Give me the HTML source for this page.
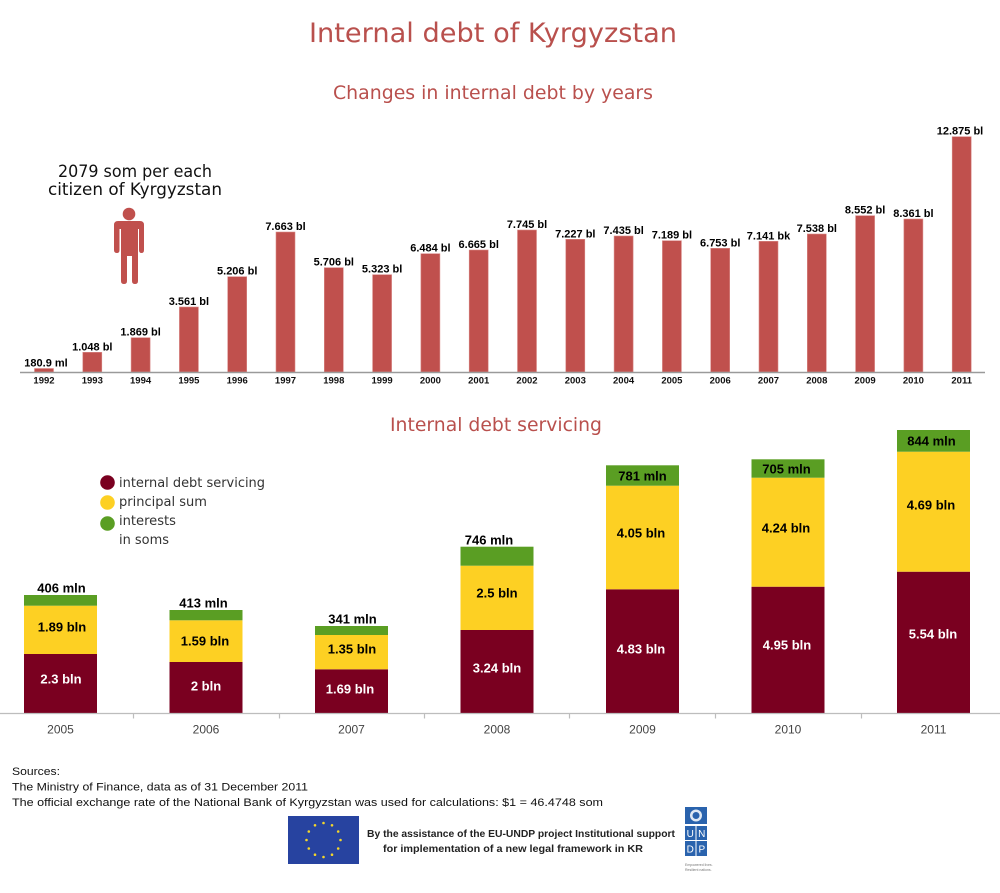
<!DOCTYPE html>
<html><head><meta charset="utf-8"><style>
html,body{margin:0;padding:0;background:#fff;}
svg{display:block;}
</style></head><body>
<svg width="1000" height="893" viewBox="0 0 1000 893" xmlns="http://www.w3.org/2000/svg">
<rect width="1000" height="893" fill="#fff"/>
<!-- Titles -->
<text x="493" y="42" text-anchor="middle" font-family="DejaVu Sans, sans-serif" font-size="27" fill="#b9504d" textLength="368" lengthAdjust="spacingAndGlyphs">Internal debt of Kyrgyzstan</text>
<text x="493" y="99" text-anchor="middle" font-family="DejaVu Sans, sans-serif" font-size="19" fill="#b9504d" textLength="320" lengthAdjust="spacingAndGlyphs">Changes in internal debt by years</text>

<!-- citizen text -->
<text x="135" y="177" text-anchor="middle" font-family="DejaVu Sans, sans-serif" font-size="16.5" fill="#111" textLength="154" lengthAdjust="spacingAndGlyphs">2079 som per each</text>
<text x="135" y="195" text-anchor="middle" font-family="DejaVu Sans, sans-serif" font-size="16.5" fill="#111" textLength="174" lengthAdjust="spacingAndGlyphs">citizen of Kyrgyzstan</text>

<!-- person icon -->
<g fill="#c0504d">
<circle cx="129" cy="214" r="6.3"/>
<path d="M118,221 H140 Q144,221 144,225 V250 Q144,253 141.5,253 Q139,253 139,250 V229 H138 V281 Q138,284 135,284 Q132,284 132,281 V256 H127 V281 Q127,284 124,284 Q121,284 121,281 V229 H119.5 V250 Q119.5,253 117,253 Q114,253 114,250 V225 Q114,221 118,221 Z"/>
</g>

<!-- top chart bars -->
<g fill="#c0504d" stroke="#d98a88" stroke-width="0.6">
<rect x="34.5" y="368.5" width="19" height="3.5"/>
<rect x="82.8" y="352.3" width="19" height="19.7"/>
<rect x="131.1" y="337.7" width="19" height="34.3"/>
<rect x="179.4" y="307" width="19" height="65"/>
<rect x="227.7" y="276.7" width="19" height="95.3"/>
<rect x="276" y="232" width="19" height="140"/>
<rect x="324.3" y="267.7" width="19" height="104.3"/>
<rect x="372.6" y="274.7" width="19" height="97.3"/>
<rect x="420.9" y="253.7" width="19" height="118.3"/>
<rect x="469.2" y="250" width="19" height="122"/>
<rect x="517.5" y="230" width="19" height="142"/>
<rect x="565.8" y="239.3" width="19" height="132.7"/>
<rect x="614.1" y="236" width="19" height="136"/>
<rect x="662.4" y="240.7" width="19" height="131.3"/>
<rect x="710.7" y="248.3" width="19" height="123.7"/>
<rect x="759" y="241.3" width="19" height="130.7"/>
<rect x="807.3" y="234" width="19" height="138"/>
<rect x="855.6" y="215.7" width="19" height="156.3"/>
<rect x="903.9" y="219" width="19" height="153"/>
<rect x="952.2" y="136.7" width="19" height="235.3"/>
</g>
<line x1="20" y1="372.5" x2="985" y2="372.5" stroke="#9a9a9a" stroke-width="1.5"/>

<g font-family="Liberation Sans, sans-serif" font-weight="bold" font-size="11" fill="#000" text-anchor="middle">
<text x="46" y="366.5">180.9 ml</text>
<text x="92.3" y="350.3">1.048 bl</text>
<text x="140.6" y="335.7">1.869 bl</text>
<text x="188.9" y="305">3.561 bl</text>
<text x="237.2" y="274.7">5.206 bl</text>
<text x="285.5" y="230">7.663 bl</text>
<text x="333.8" y="265.7">5.706 bl</text>
<text x="382.1" y="272.7">5.323 bl</text>
<text x="430.4" y="251.7">6.484 bl</text>
<text x="478.7" y="248">6.665 bl</text>
<text x="527" y="228">7.745 bl</text>
<text x="575.3" y="237.3">7.227 bl</text>
<text x="623.6" y="234">7.435 bl</text>
<text x="671.9" y="238.7">7.189 bl</text>
<text x="720.2" y="246.3">6.753 bl</text>
<text x="768.5" y="239.3">7.141 bk</text>
<text x="816.8" y="232">7.538 bl</text>
<text x="865.1" y="213.7">8.552 bl</text>
<text x="913.4" y="217">8.361 bl</text>
<text x="960" y="134.7">12.875 bl</text>
</g>
<g font-family="Liberation Sans, sans-serif" font-weight="bold" font-size="9.5" fill="#111" text-anchor="middle">
<text x="44" y="383.5">1992</text>
<text x="92.3" y="383.5">1993</text>
<text x="140.6" y="383.5">1994</text>
<text x="188.9" y="383.5">1995</text>
<text x="237.2" y="383.5">1996</text>
<text x="285.5" y="383.5">1997</text>
<text x="333.8" y="383.5">1998</text>
<text x="382.1" y="383.5">1999</text>
<text x="430.4" y="383.5">2000</text>
<text x="478.7" y="383.5">2001</text>
<text x="527" y="383.5">2002</text>
<text x="575.3" y="383.5">2003</text>
<text x="623.6" y="383.5">2004</text>
<text x="671.9" y="383.5">2005</text>
<text x="720.2" y="383.5">2006</text>
<text x="768.5" y="383.5">2007</text>
<text x="816.8" y="383.5">2008</text>
<text x="865.1" y="383.5">2009</text>
<text x="913.4" y="383.5">2010</text>
<text x="961.7" y="383.5">2011</text>
</g>

<!-- bottom chart -->
<text x="496" y="431" text-anchor="middle" font-family="DejaVu Sans, sans-serif" font-size="19" fill="#b9504d" textLength="212" lengthAdjust="spacingAndGlyphs">Internal debt servicing</text>

<!-- legend -->
<circle cx="107.5" cy="482.5" r="7.3" fill="#7a0020"/>
<circle cx="107.5" cy="502.5" r="7.3" fill="#fdd023"/>
<circle cx="107.5" cy="523.5" r="7.3" fill="#5a9e23"/>
<g font-family="DejaVu Sans, sans-serif" font-size="13" fill="#333">
<text x="119" y="487" textLength="146" lengthAdjust="spacingAndGlyphs">internal debt servicing</text>
<text x="119" y="506" textLength="88" lengthAdjust="spacingAndGlyphs">principal sum</text>
<text x="119" y="525" textLength="57" lengthAdjust="spacingAndGlyphs">interests</text>
<text x="119" y="544" textLength="50" lengthAdjust="spacingAndGlyphs">in soms</text>
</g>

<!-- stacked bars -->
<g>
<rect x="24" y="654" width="73" height="59" fill="#7a0020"/>
<rect x="24" y="605.7" width="73" height="48.3" fill="#fdd023"/>
<rect x="24" y="595" width="73" height="10.7" fill="#5a9e23"/>

<rect x="169.5" y="662" width="73" height="51" fill="#7a0020"/>
<rect x="169.5" y="620.3" width="73" height="41.7" fill="#fdd023"/>
<rect x="169.5" y="610" width="73" height="10.3" fill="#5a9e23"/>

<rect x="315" y="669.3" width="73" height="43.7" fill="#7a0020"/>
<rect x="315" y="635" width="73" height="34.3" fill="#fdd023"/>
<rect x="315" y="626" width="73" height="9" fill="#5a9e23"/>

<rect x="460.5" y="630" width="73" height="83" fill="#7a0020"/>
<rect x="460.5" y="565.7" width="73" height="64.3" fill="#fdd023"/>
<rect x="460.5" y="546.7" width="73" height="19" fill="#5a9e23"/>

<rect x="606" y="589.3" width="73" height="123.7" fill="#7a0020"/>
<rect x="606" y="485.7" width="73" height="103.6" fill="#fdd023"/>
<rect x="606" y="465.3" width="73" height="20.4" fill="#5a9e23"/>

<rect x="751.5" y="586.7" width="73" height="126.3" fill="#7a0020"/>
<rect x="751.5" y="477.7" width="73" height="109" fill="#fdd023"/>
<rect x="751.5" y="459.3" width="73" height="18.4" fill="#5a9e23"/>

<rect x="897" y="571.7" width="73" height="141.3" fill="#7a0020"/>
<rect x="897" y="451.7" width="73" height="120" fill="#fdd023"/>
<rect x="897" y="430" width="73" height="21.7" fill="#5a9e23"/>
</g>

<!-- axis -->
<line x1="0" y1="713.5" x2="1000" y2="713.5" stroke="#bdbdbd" stroke-width="1.2"/>
<g stroke="#bdbdbd" stroke-width="1.2">
<line x1="133.5" y1="713" x2="133.5" y2="718.5"/>
<line x1="279.5" y1="713" x2="279.5" y2="718.5"/>
<line x1="424.5" y1="713" x2="424.5" y2="718.5"/>
<line x1="569.5" y1="713" x2="569.5" y2="718.5"/>
<line x1="715.5" y1="713" x2="715.5" y2="718.5"/>
<line x1="861.5" y1="713" x2="861.5" y2="718.5"/>
</g>
<g font-family="Liberation Sans, sans-serif" font-size="12" fill="#444" text-anchor="middle">
<text x="60.5" y="733.5">2005</text>
<text x="206" y="733.5">2006</text>
<text x="351.5" y="733.5">2007</text>
<text x="497" y="733.5">2008</text>
<text x="642.5" y="733.5">2009</text>
<text x="788" y="733.5">2010</text>
<text x="933.5" y="733.5">2011</text>
</g>

<!-- bar labels -->
<g font-family="Liberation Sans, sans-serif" font-weight="bold" font-size="13" text-anchor="middle">
<g fill="#fff">
<text x="61" y="683.6">2.3 bln</text>
<text x="206" y="690.6">2 bln</text>
<text x="350" y="693.6">1.69 bln</text>
<text x="497" y="672.6">3.24 bln</text>
<text x="641" y="653.6">4.83 bln</text>
<text x="787" y="649.6">4.95 bln</text>
<text x="933" y="638.6">5.54 bln</text>
</g>
<g fill="#000">
<text x="62" y="631.6">1.89 bln</text>
<text x="205" y="645.6">1.59 bln</text>
<text x="352" y="653.6">1.35 bln</text>
<text x="497" y="597.6">2.5 bln</text>
<text x="641" y="537.6">4.05 bln</text>
<text x="786" y="532.6">4.24 bln</text>
<text x="931" y="509.6">4.69 bln</text>
<text x="61.5" y="592.6">406 mln</text>
<text x="203.5" y="607.6">413 mln</text>
<text x="352.5" y="623.6">341 mln</text>
<text x="489" y="544.6">746 mln</text>
<text x="642.5" y="480.6">781 mln</text>
<text x="786.5" y="473.6">705 mln</text>
<text x="931.5" y="445.6">844 mln</text>
</g>
</g>

<!-- sources -->
<g font-family="Liberation Sans, sans-serif" font-size="11" fill="#111">
<text x="12" y="775" textLength="48" lengthAdjust="spacingAndGlyphs">Sources:</text>
<text x="12" y="790.5" textLength="296" lengthAdjust="spacingAndGlyphs">The Ministry of Finance, data as of 31 December 2011</text>
<text x="12" y="806" textLength="591" lengthAdjust="spacingAndGlyphs">The official exchange rate of the National Bank of Kyrgyzstan was used for calculations: $1 = 46.4748 som</text>
</g>

<!-- EU flag -->
<rect x="288" y="816" width="71" height="48" fill="#2743a0"/>
<g fill="#f4d62a">
<circle cx="323.5" cy="823" r="1.3"/>
<circle cx="332" cy="825.3" r="1.3"/>
<circle cx="338.2" cy="831.5" r="1.3"/>
<circle cx="340.5" cy="840" r="1.3"/>
<circle cx="338.2" cy="848.5" r="1.3"/>
<circle cx="332" cy="854.7" r="1.3"/>
<circle cx="323.5" cy="857" r="1.3"/>
<circle cx="315" cy="854.7" r="1.3"/>
<circle cx="308.8" cy="848.5" r="1.3"/>
<circle cx="306.5" cy="840" r="1.3"/>
<circle cx="308.8" cy="831.5" r="1.3"/>
<circle cx="315" cy="825.3" r="1.3"/>
</g>
<g font-family="Liberation Sans, sans-serif" font-weight="bold" font-size="10" fill="#222">
<text x="367" y="837" textLength="308" lengthAdjust="spacingAndGlyphs">By the assistance of the EU-UNDP project Institutional support</text>
<text x="383" y="852" textLength="260" lengthAdjust="spacingAndGlyphs">for implementation of a new legal framework in KR</text>
</g>

<!-- UNDP logo -->
<rect x="685" y="807" width="22" height="17" fill="#2a63ad"/>
<circle cx="696" cy="815.5" r="6" fill="#dfe8f3"/>
<circle cx="696" cy="815.5" r="3.5" fill="#2a63ad"/>
<rect x="685" y="826" width="10.5" height="14" fill="#2a63ad"/>
<rect x="696.5" y="826" width="10.5" height="14" fill="#2a63ad"/>
<rect x="685" y="841" width="10.5" height="15" fill="#2a63ad"/>
<rect x="696.5" y="841" width="10.5" height="15" fill="#2a63ad"/>
<g font-family="Liberation Sans, sans-serif" font-size="10" fill="#fff" text-anchor="middle">
<text x="690.3" y="837">U</text>
<text x="701.8" y="837">N</text>
<text x="690.3" y="852.5">D</text>
<text x="701.8" y="852.5">P</text>
</g>
<g font-family="Liberation Sans, sans-serif" font-size="3.5" fill="#777">
<text x="685" y="866">Empowered lives.</text>
<text x="685" y="871">Resilient nations.</text>
</g>
</svg>
</body></html>
